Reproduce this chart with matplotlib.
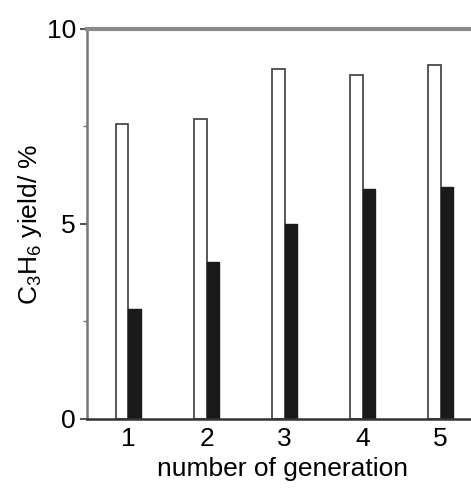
import matplotlib
matplotlib.use("Agg")
from matplotlib import pyplot as plt
from matplotlib.ticker import MultipleLocator

generations = [1, 2, 3, 4, 5]
open_yield = [7.56, 7.68, 8.97, 8.82, 9.08]
filled_yield = [2.81, 4.01, 4.99, 5.89, 5.94]

plt.rcParams['font.family'] = ['Liberation Sans', 'DejaVu Sans']
plt.rcParams['mathtext.fontset'] = 'custom'
plt.rcParams['mathtext.rm'] = 'Liberation Sans'
plt.rcParams['mathtext.it'] = 'Liberation Sans'

fig = plt.figure(figsize=(4.71, 4.91), dpi=100)
ax = fig.add_axes([0.185, 0.147, 0.83, 0.794])

width = 0.16
ax.bar([g - width for g in generations], open_yield, width=width, align='edge',
       color='white', edgecolor='#4a4a4a', linewidth=1.3)
ax.bar(generations, filled_yield, width=width, align='edge',
       color='#1a1a1a', edgecolor='#1a1a1a', linewidth=1.0)

ax.set_xlim(0.47, 5.48)
ax.set_ylim(0, 10)
ax.set_xticks(generations)
ax.set_yticks([0, 5, 10])
ax.yaxis.set_minor_locator(MultipleLocator(2.5))
ax.tick_params(axis='x', length=0, labelsize=19, pad=6)
ax.tick_params(axis='y', which='major', length=5, width=1.5, color='#555555', labelsize=19, pad=3)
ax.tick_params(axis='y', which='minor', length=3, width=1.0, color='#777777')

ax.spines['right'].set_visible(False)
ax.spines['top'].set_color('#8a8a8a')
ax.spines['top'].set_linewidth(3)
ax.spines['left'].set_color('#777777')
ax.spines['left'].set_linewidth(1.8)
ax.spines['bottom'].set_color('#333333')
ax.spines['bottom'].set_linewidth(1.8)

ax.set_xlabel("number of generation", fontsize=19, labelpad=4)
ax.set_ylabel(r"C$_3$H$_6$ yield/ %", fontsize=19, labelpad=2)

fig.savefig("out.png", dpi=100)
